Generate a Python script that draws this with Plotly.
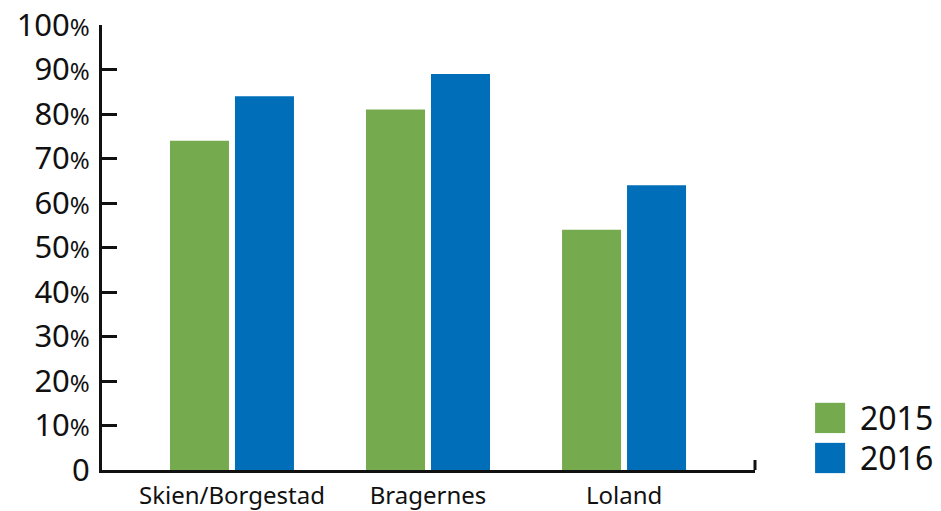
import plotly.graph_objects as go

categories = ["Skien/Borgestad", "Bragernes", "Loland"]
years = ["2015", "2016"]
values_2015 = [74, 81, 54]
values_2016 = [84, 89, 64]
tick_vals = [0, 10, 20, 30, 40, 50, 60, 70, 80, 90, 100]
tick_text = ["0"] + [f"{v}<span style='font-size:24px'>%</span>" for v in tick_vals[1:]]

colors = ["#76AA4F", "#006EB8"]
FONT = "Noto Sans, DejaVu Sans, sans-serif"

fig = go.Figure()
for name, vals, col in zip(years, [values_2015, values_2016], colors):
    fig.add_trace(go.Bar(x=categories, y=vals, name=name, marker_color=col,
                         marker_line_width=0, showlegend=False))

fig.update_layout(
    width=941, height=511,
    margin=dict(l=102, r=186, t=25, b=41, autoexpand=False),
    paper_bgcolor="white", plot_bgcolor="white",
    barmode="group", bargap=0.337, bargroupgap=0.092,
    font=dict(family=FONT, color="#111111"),
)
fig.update_xaxes(
    range=[-0.663, 2.668], showline=True, linewidth=3, linecolor="#111111",
    showgrid=False, ticks="", tickfont=dict(size=24, family=FONT),
    automargin=False, ticklabelstandoff=2,
)
fig.update_yaxes(
    range=[0, 100], showline=True, linewidth=3, linecolor="#111111",
    showgrid=False, zeroline=False, ticks="inside", ticklen=15, tickwidth=3,
    tickcolor="#111111", tickvals=tick_vals, ticktext=tick_text,
    tickfont=dict(size=31, family=FONT), ticklabelstandoff=3,
    automargin=False,
)
# right end tick of x axis
fig.add_shape(type="line", xref="paper", yref="paper", x0=1, x1=1, y0=0, y1=0.0225,
              line=dict(color="#111111", width=3))

# manual legend
legend_y = [0.117, 0.027]
for name, col, ly in zip(years, colors, legend_y):
    fig.add_shape(type="rect", xref="paper", yref="paper",
                  x0=1.092, x1=1.138, y0=ly - 0.034, y1=ly + 0.034,
                  fillcolor=col, line_width=0)
    fig.add_annotation(xref="paper", yref="paper", x=1.158, y=ly, text=name,
                       showarrow=False, xanchor="left", yanchor="middle",
                       font=dict(size=32, family=FONT, color="#111111"))

fig.write_html("out.html")
